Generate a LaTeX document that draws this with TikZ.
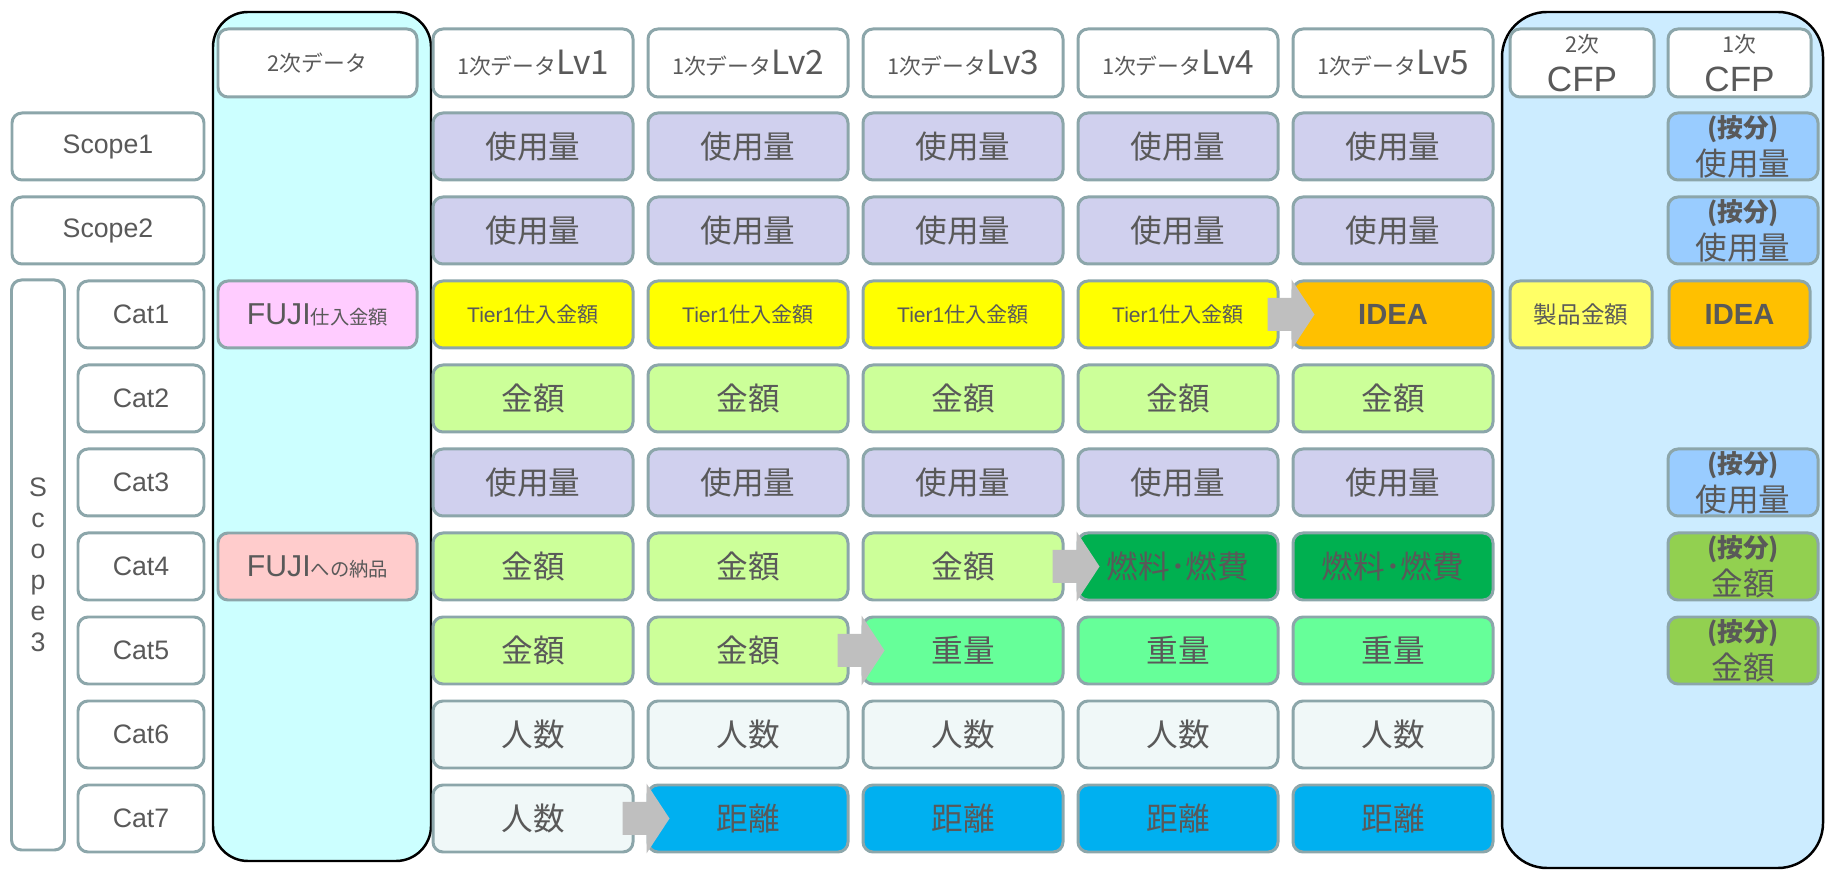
\documentclass[tikz,border=0pt]{standalone}
\usepackage{fontspec}
\setmainfont{Liberation Sans}
\newfontfamily\jp{Noto Sans CJK JP}
\usetikzlibrary{calc}

\definecolor{edgegrey}{RGB}{140,166,170}
\definecolor{textgrey}{HTML}{595959}
\definecolor{lavfill}{HTML}{D0D0EE}
\definecolor{yelfill}{HTML}{FFFF00}
\definecolor{orgfill}{HTML}{FFC000}
\definecolor{lgrnfill}{HTML}{CCFF99}
\definecolor{dgrnfill}{HTML}{00B050}
\definecolor{mgrnfill}{HTML}{66FF99}
\definecolor{palefill}{HTML}{F0F8F8}
\definecolor{skyfill}{HTML}{00B0F0}
\definecolor{pinkfill}{HTML}{FFCCFF}
\definecolor{rosefill}{HTML}{FFCCCC}
\definecolor{cyanpanel}{HTML}{CCFFFF}
\definecolor{bluepanel}{HTML}{CCECFF}
\definecolor{lyelfill}{HTML}{FFFF66}
\definecolor{lbluefill}{HTML}{99CCFF}
\definecolor{gfill}{HTML}{92D050}
\definecolor{arrowgrey}{HTML}{BFBFBF}

\newcommand\smalljp[1]{{\jp\fontsize{6.2}{7}\selectfont #1}}
\newcommand\bigtxt[1]{{\fontsize{9.5}{10}\selectfont #1}}
\newcommand\share[1]{{\jp\bfseries\fontsize{7.3}{8}\selectfont (按分)}\\#1}

\tikzset{
  cell/.style={draw=edgegrey, line width=0.85pt, rounded corners=0.1cm, fill=white, text=textgrey,
    inner sep=0pt, minimum width=2cm, minimum height=0.67cm, align=center, font=\jp\fontsize{9}{10}\selectfont},
  lav/.style={cell, fill=lavfill},
  yel/.style={cell, fill=yelfill, font=\fontsize{6}{7}\selectfont},
  org/.style={cell, fill=orgfill, font=\fontsize{8.3}{9}\selectfont\bfseries},
  lgrn/.style={cell, fill=lgrnfill},
  dgrn/.style={cell, fill=dgrnfill},
  mgrn/.style={cell, fill=mgrnfill},
  pale/.style={cell, fill=palefill},
  sky/.style={cell, fill=skyfill},
  lbl/.style={cell, font=\fontsize{7.6}{9}\selectfont},
  hdr/.style={cell, minimum height=0.68cm},
  fuji/.style={cell, minimum width=1.99cm, font=\fontsize{8.6}{9}\selectfont},
  sharecell/.style={cell, minimum width=1.5cm, font=\jp\fontsize{9}{10.8}\selectfont},
  panel/.style={draw=black, line width=0.7pt},
}

\begin{document}
\begin{tikzpicture}
	\useasboundingbox (0,0) rectangle (18.25,-8.70);
	\filldraw[panel, fill=cyanpanel, rounded corners=0.35cm] (2.13,-0.12) rectangle (4.31,-8.61);
	\filldraw[panel, fill=bluepanel, rounded corners=0.45cm] (15.02,-0.12) rectangle (18.23,-8.68);

	\node (scope1) [lbl, minimum width=1.92cm] at (1.08,-1.465) {Scope1};
	\node (scope2) [lbl, minimum width=1.92cm] at (1.08,-2.305) {Scope2};
	\node (scope3) [lbl, minimum width=0.53cm, minimum height=5.70cm, font=\fontsize{7.6}{8.8}\selectfont] at (0.38,-5.65) {S\\c\\o\\p\\e\\3};
	\foreach \y in {1,...,7} {
		\node (cat\y) [lbl, minimum width=1.26cm] at (1.41,{-0.625-0.84*(\y+2)}) {Cat\y};
	}

	\node (d2) [hdr, minimum width=1.99cm] at (3.175,-0.63) {\smalljp{2次データ}};
	\foreach \x in {1,...,5} {
		\node (h\x) [hdr] at ({3.18+2.15*\x},-0.63) {\smalljp{1次データ}\bigtxt{Lv\x}};
	}
	\node (cfp2) [hdr, minimum width=1.44cm, font=\fontsize{10}{11}\selectfont] at (15.82,-0.63) {\smalljp{2次}\\CFP};
	\node (cfp1) [hdr, minimum width=1.43cm, font=\fontsize{10}{11}\selectfont] at (17.395,-0.63) {\smalljp{1次}\\CFP};

	\node (fuji3) [fuji, fill=pinkfill] at (3.175,-3.145) {FUJI{\jp\fontsize{5.5}{6}\selectfont 仕入金額}};
	\node (fuji6) [fuji, fill=rosefill] at (3.175,-5.665) {FUJI{\jp\fontsize{5.5}{6}\selectfont への納品}};

	\foreach \y/\cells in {
		1/{lav/使用量,lav/使用量,lav/使用量,lav/使用量,lav/使用量},
		2/{lav/使用量,lav/使用量,lav/使用量,lav/使用量,lav/使用量},
		3/{yel/Tier1{\jp 仕入金額},yel/Tier1{\jp 仕入金額},yel/Tier1{\jp 仕入金額},yel/Tier1{\jp 仕入金額},org/IDEA},
		4/{lgrn/金額,lgrn/金額,lgrn/金額,lgrn/金額,lgrn/金額},
		5/{lav/使用量,lav/使用量,lav/使用量,lav/使用量,lav/使用量},
		6/{lgrn/金額,lgrn/金額,lgrn/金額,dgrn/燃料･燃費,dgrn/燃料･燃費},
		7/{lgrn/金額,lgrn/金額,mgrn/重量,mgrn/重量,mgrn/重量},
		8/{pale/人数,pale/人数,pale/人数,pale/人数,pale/人数},
		9/{pale/人数,sky/距離,sky/距離,sky/距離,sky/距離}} {
		\foreach \s/\t [count=\x] in \cells {
			\node (lv\x\y) [\s] at ({3.18+2.15*\x},{-0.625-0.84*\y}) {\t};
		}
	}

	\node (price) [cell, fill=lyelfill, minimum width=1.42cm, font=\jp\fontsize{6.7}{7}\selectfont] at (15.81,-3.145) {製品金額};
	\node (idea) [org, minimum width=1.41cm] at (17.395,-3.145) {IDEA};
	\foreach \y/\c/\t in {1/lbluefill/使用量, 2/lbluefill/使用量, 5/lbluefill/使用量, 6/gfill/金額, 7/gfill/金額} {
		\node (share\y) [sharecell, fill=\c] at (17.43,{-0.625-0.84*\y}) {\share{\t}};
	}

	\foreach \a/\b in {lv43/lv53, lv36/lv46, lv27/lv37, lv19/lv29} {
		\fill[arrowgrey] ($(\a.east)+(-0.12,0.165)$) -- ($(\b.west)+(0,0.165)$) -- (\b.north west)
			-- ($(\b.west)+(0.23,0)$) -- (\b.south west) -- ($(\b.west)+(0,-0.165)$)
			-- ($(\a.east)+(-0.12,-0.165)$) -- cycle;
	}
\end{tikzpicture}
\end{document}
